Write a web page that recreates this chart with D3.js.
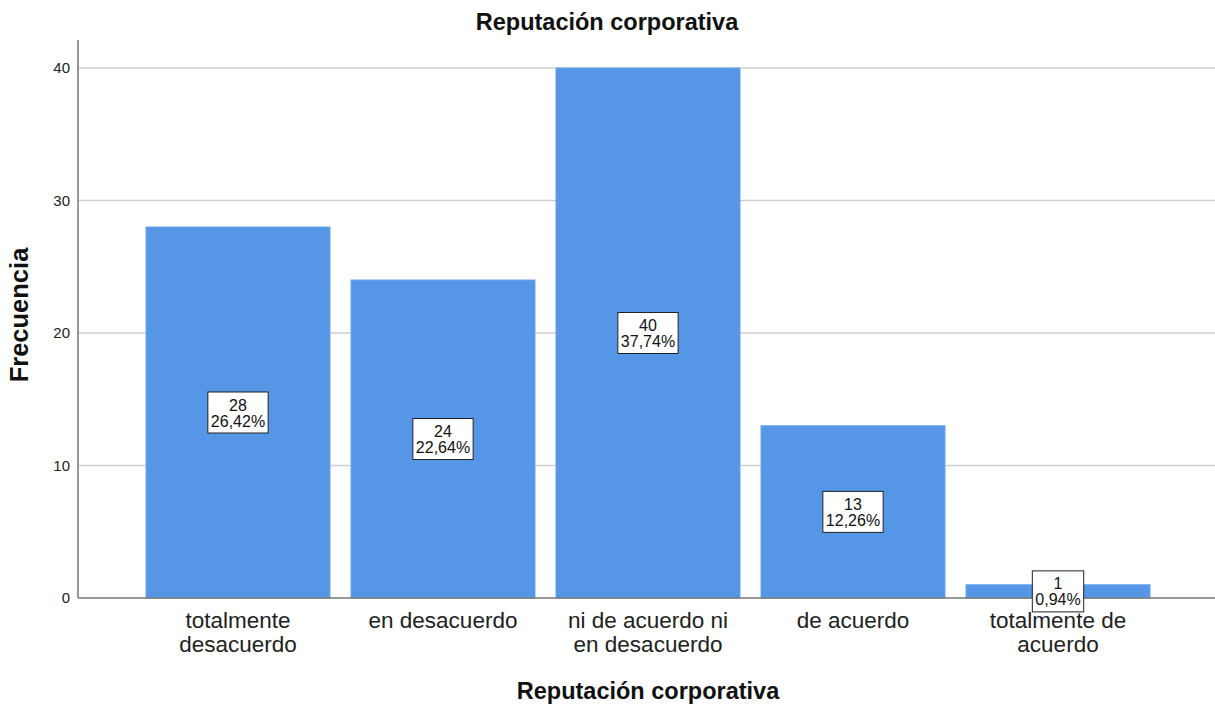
<!DOCTYPE html>
<html>
<head>
<meta charset="utf-8">
<script src="https://cdn.jsdelivr.net/npm/d3@7"></script>
<style>
  html, body { margin: 0; padding: 0; background: #fff; }
  svg { display: block; font-family: "Liberation Sans", Arial, sans-serif; }
</style>
</head>
<body>
<svg id="chart" width="1215" height="707"></svg>
<script>
// Frequency table: Reputación corporativa
const categories = [
  ["totalmente", "desacuerdo"],
  ["en desacuerdo"],
  ["ni de acuerdo ni", "en desacuerdo"],
  ["de acuerdo"],
  ["totalmente de", "acuerdo"]
];
const frequencies = [28, 24, 40, 13, 1];
const percentLabels = ["26,42%", "22,64%", "37,74%", "12,26%", "0,94%"];
const yTicks = [0, 10, 20, 30, 40];

const svg = d3.select("#chart");
const W = 1215, H = 707;
const m = { left: 78, top: 40, bottom: 109 };

const x = d3.scaleBand()
  .domain(d3.range(frequencies.length))
  .range([146, 1150])
  .paddingInner(0.1025)
  .paddingOuter(0);

const y = d3.scaleLinear()
  .domain([0, 40])
  .range([H - m.bottom, 68]);

// horizontal grid lines
svg.append("g")
  .selectAll("line")
  .data(yTicks.filter(d => d > 0))
  .join("line")
  .attr("x1", m.left).attr("x2", W)
  .attr("y1", d => y(d)).attr("y2", d => y(d))
  .attr("stroke", "#d0d0d0")
  .attr("stroke-width", 1.5);

// bars
svg.append("g")
  .selectAll("rect")
  .data(frequencies)
  .join("rect")
  .attr("x", (d, i) => x(i))
  .attr("y", d => y(d))
  .attr("width", x.bandwidth())
  .attr("height", d => y(0) - y(d))
  .attr("fill", "#5596e6")
  .attr("stroke", "#6aa5ec")
  .attr("stroke-width", 1);

// axes
const yAxis = d3.axisLeft(y).tickValues(yTicks).tickSize(0).tickPadding(8);
const gy = svg.append("g").attr("transform", `translate(${m.left},0)`).call(yAxis);
gy.select(".domain").attr("stroke", "#777").attr("stroke-width", 1.5).attr("d", `M0,${m.top}V${y(0)}`);
gy.selectAll("text").attr("font-size", 15).attr("fill", "#222").attr("font-family", "Liberation Sans, Arial, sans-serif");

svg.append("line")
  .attr("x1", m.left).attr("x2", W)
  .attr("y1", y(0)).attr("y2", y(0))
  .attr("stroke", "#777").attr("stroke-width", 1.5);

// category labels, one text per line
const catG = svg.append("g");
categories.forEach((lines, i) => {
  const cx = x(i) + x.bandwidth() / 2;
  lines.forEach((s, k) => {
    catG.append("text")
      .attr("x", cx)
      .attr("y", y(0) + 30 + k * 23.5)
      .attr("text-anchor", "middle")
      .attr("font-size", 22.5)
      .attr("fill", "#222")
      .text(s);
  });
});

// value labels in boxes at half bar height
const lblG = svg.append("g");
frequencies.forEach((v, i) => {
  const cx = x(i) + x.bandwidth() / 2;
  const cy = y(v / 2);
  const g = lblG.append("g");
  const rect = g.append("rect").attr("fill", "#fff").attr("stroke", "#222").attr("stroke-width", 1);
  const t = g.append("text").attr("text-anchor", "middle").attr("font-size", 16).attr("fill", "#111");
  t.append("tspan").attr("x", cx).attr("y", cy - 2).text(v);
  t.append("tspan").attr("x", cx).attr("y", cy + 14).text(percentLabels[i]);
  const bb = t.node().getBBox();
  const w = bb.width + 6, h = 41;
  rect.attr("x", cx - w / 2).attr("y", cy - h / 2).attr("width", w).attr("height", h);
});

// titles
svg.append("text")
  .attr("x", 607).attr("y", 30)
  .attr("text-anchor", "middle")
  .attr("font-weight", "bold").attr("font-size", 23.5)
  .attr("fill", "#111")
  .text("Reputación corporativa");

svg.append("text")
  .attr("x", 648).attr("y", 699)
  .attr("text-anchor", "middle")
  .attr("font-weight", "bold").attr("font-size", 23.5)
  .attr("fill", "#111")
  .text("Reputación corporativa");

svg.append("text")
  .attr("transform", `translate(28,315) rotate(-90)`)
  .attr("text-anchor", "middle")
  .attr("font-weight", "bold").attr("font-size", 25.5)
  .attr("fill", "#111")
  .text("Frecuencia");
</script>
</body>
</html>
